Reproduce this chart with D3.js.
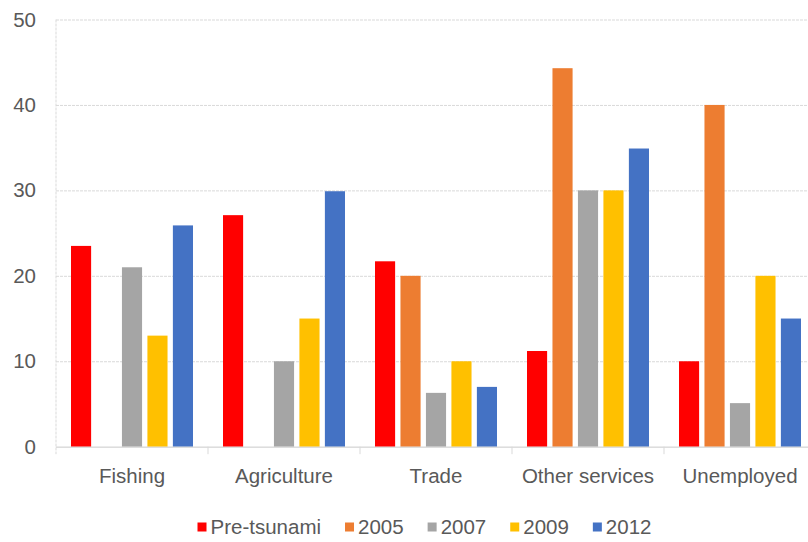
<!DOCTYPE html>
<html>
<head>
<meta charset="utf-8">
<script src="https://cdn.jsdelivr.net/npm/d3@7"></script>
<style>
  body { margin: 0; background: #fff; }
  svg { display: block; font-family: "Liberation Sans", Arial, sans-serif; }
</style>
</head>
<body>
<svg id="chart" width="808" height="542"></svg>
<script>
// data
const categories = ["Fishing", "Agriculture", "Trade", "Other services", "Unemployed"];
const seriesNames = ["Pre-tsunami", "2005", "2007", "2009", "2012"];
const preTsunami = [23.5, 27.1, 21.7, 11.2, 10];
const y2005 = [null, null, 20, 44.3, 40];
const y2007 = [21, 10, 6.3, 30, 5.1];
const y2009 = [13, 15, 10, 30, 20];
const y2012 = [25.9, 29.9, 7, 34.9, 15];
const yTicks = [0, 10, 20, 30, 40, 50];
const colors = ["#ff0000", "#ed7d31", "#a5a5a5", "#ffc000", "#4472c4"];

const seriesValues = [preTsunami, y2005, y2007, y2009, y2012];

const svg = d3.select("#chart");
const dims = { left: 56, top: 19.5, zero: 446.7, catW: 152 };

const x0 = d3.scaleBand()
    .domain(categories)
    .range([dims.left, dims.left + dims.catW * categories.length])
    .padding(0);
const x1 = d3.scaleBand()
    .domain(seriesNames)
    .range([15, dims.catW - 15])
    .paddingInner(0.21)
    .paddingOuter(0);
const y = d3.scaleLinear()
    .domain([0, 50])
    .range([dims.zero, dims.top]);

// gridlines + tick labels
const yAxis = d3.axisLeft(y)
    .tickValues(yTicks)
    .tickSize(-(808 - dims.left))
    .tickPadding(20);
const yg = svg.append("g")
    .attr("transform", `translate(${dims.left},0)`)
    .call(yAxis);
yg.select(".domain").remove();
yg.selectAll("line")
    .attr("stroke", "#d9d9d9")
    .attr("stroke-width", 1)
    .attr("stroke-dasharray", d => d === 0 ? null : "3,1");
yg.selectAll("text")
    .attr("fill", "#595959")
    .attr("font-size", "20.5px")
    .attr("font-family", "Liberation Sans, Arial, sans-serif");

// left border
svg.append("line")
    .attr("x1", dims.left).attr("x2", dims.left)
    .attr("y1", dims.top).attr("y2", dims.zero + 7.5)
    .attr("stroke", "#d9d9d9")
    .attr("stroke-dasharray", "3,1");

// bars
const rows = [];
categories.forEach((c, i) => {
    seriesNames.forEach((s, j) => {
        const v = seriesValues[j][i];
        if (v != null) rows.push({ cat: c, series: s, value: v, color: colors[j] });
    });
});
svg.append("g")
    .selectAll("rect")
    .data(rows)
    .join("rect")
    .attr("x", d => x0(d.cat) + x1(d.series))
    .attr("y", d => y(d.value))
    .attr("width", x1.bandwidth())
    .attr("height", d => y(0) - y(d.value))
    .attr("fill", d => d.color);

// x axis line and separators
const xAxis = d3.axisBottom(x0).tickSize(0).tickFormat("");
const xg = svg.append("g")
    .attr("transform", `translate(0,${dims.zero})`)
    .call(xAxis);
xg.select(".domain").attr("stroke", "#d9d9d9").attr("d", `M${dims.left},0.5H808`);
xg.selectAll(".tick").remove();
const seps = categories.map(c => x0(c)).concat([x0.range()[1]]).slice(1);
svg.append("g")
    .selectAll("line")
    .data(seps)
    .join("line")
    .attr("x1", d => d).attr("x2", d => d)
    .attr("y1", dims.zero).attr("y2", dims.zero + 7.5)
    .attr("stroke", "#d9d9d9");

// category labels
svg.append("g")
    .selectAll("text")
    .data(categories)
    .join("text")
    .attr("x", d => x0(d) + x0.bandwidth() / 2)
    .attr("y", 483)
    .attr("text-anchor", "middle")
    .attr("fill", "#595959")
    .attr("font-size", "20.5px")
    .text(d => d);

// legend
const legend = svg.append("g");
let lx = 197.5;
seriesNames.forEach((s, j) => {
    legend.append("rect")
        .attr("x", lx).attr("y", 522.5)
        .attr("width", 9).attr("height", 9)
        .attr("fill", colors[j]);
    const t = legend.append("text")
        .attr("x", lx + 13)
        .attr("y", 533.5)
        .attr("fill", "#595959")
        .attr("font-size", "20.5px")
        .text(s);
    lx += 13 + t.node().getComputedTextLength() + 24;
});
</script>
</body>
</html>
